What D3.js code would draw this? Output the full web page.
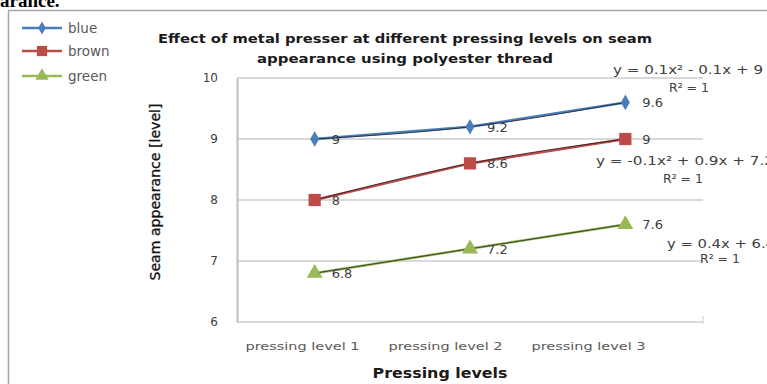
<!DOCTYPE html>
<html><head><meta charset="utf-8">
<script src="https://cdn.jsdelivr.net/npm/d3@7"></script>
<style>body{margin:0;background:#fff}svg{display:block}</style>
</head><body><svg id="c" width="767" height="384"></svg>
<script>
const categories = ["pressing level 1", "pressing level 2", "pressing level 3"];
const seriesNames = ["blue", "brown", "green"];
const blueValues = [9, 9.2, 9.6];
const brownValues = [8, 8.6, 9];
const greenValues = [6.8, 7.2, 7.6];
const yTicks = [6, 7, 8, 9, 10];
const equations = ["y = 0.1x² - 0.1x + 9", "y = -0.1x² + 0.9x + 7.2", "y = 0.4x + 6.4"];
const rSquared = ["R² = 1", "R² = 1", "R² = 1"];

const svg = d3.select("#c");
const colors = ["#4a7ebb", "#be4b48", "#98b954"];
const series = [blueValues, brownValues, greenValues];

// outer frame & stray text from source document
svg.append("text").attr("x", 0).attr("y", 7).attr("font-family", "Liberation Serif").attr("font-weight", "bold").attr("font-size", 19).attr("fill", "#000").text("arance.");
svg.append("rect").attr("x", 8.5).attr("y", 10.5).attr("width", 800).attr("height", 400).attr("fill", "none").attr("stroke", "#a6a6a6").attr("stroke-width", 1.5);

const x = d3.scaleBand().domain(categories).range([237, 703]);
const y = d3.scaleLinear().domain([6, 10]).range([322, 78]);
const xl = d3.scalePoint().domain(categories).range([302, 588]);

// gridlines
svg.append("g").selectAll("line").data(yTicks).join("line")
  .attr("x1", 237).attr("x2", 703).attr("y1", d => y(d)).attr("y2", d => y(d))
  .attr("stroke", "#d9d9d9").attr("stroke-width", 2);

// y axis
const ya = svg.append("g").attr("transform", "translate(237,0)").call(d3.axisLeft(y).tickValues(yTicks).tickSize(0).tickPadding(19).tickFormat(d3.format("d")));
ya.select(".domain").attr("stroke", "#bfbfbf").attr("stroke-width", 2);
ya.selectAll("text").attr("font-family", "DejaVu Sans").attr("font-size", 12).attr("fill", "#404040");

// x axis
const xa = svg.append("g").attr("transform", "translate(0,322)").call(d3.axisBottom(xl).tickSize(0).tickPadding(20));
xa.select(".domain").remove();
xa.selectAll("text").attr("font-family", "DejaVu Sans").attr("font-size", 11).attr("fill", "#595959").attr("textLength", 114).attr("lengthAdjust", "spacingAndGlyphs");
svg.append("line").attr("x1", x.range()[1]).attr("x2", x.range()[1]).attr("y1", 316).attr("y2", 324).attr("stroke", "#d0d0d0");

// lines
const line = d3.line().x((d, i) => x(categories[i]) + x.bandwidth() / 2).y(d => y(d));
const trend = d3.line().x((d, i) => x(categories[i]) + x.bandwidth() / 2).y(d => y(d)).curve(d3.curveMonotoneX);
const symbols = [d3.symbolDiamond, d3.symbolSquare, d3.symbolTriangle];
const sizes = [70, 150, 110];
series.forEach((vals, s) => {
  svg.append("path").attr("d", line(vals)).attr("fill", "none").attr("stroke", colors[s]).attr("stroke-width", 2.5);
  svg.append("path").attr("d", trend(vals)).attr("fill", "none").attr("stroke", "#1a1a1a").attr("stroke-width", 1).attr("opacity", 0.75);
  svg.append("g").selectAll("path").data(vals).join("path")
    .attr("transform", (d, i) => `translate(${x(categories[i]) + x.bandwidth() / 2},${y(d)})`)
    .attr("d", d3.symbol().type(symbols[s]).size(sizes[s])).attr("fill", colors[s]);
  svg.append("g").selectAll("text").data(vals).join("text")
    .attr("x", (d, i) => x(categories[i]) + x.bandwidth() / 2 + 17)
    .attr("y", d => y(d) + 5)
    .attr("font-family", "DejaVu Sans").attr("font-size", 13).attr("fill", "#404040")
    .text(d => d3.format("")(d));
});

// equations (start x, baseline, width) and R² (center x, baseline)
const eqPos = [[613, 74, 150, 689, 92], [596, 165, 178, 683, 183], [667, 248, 108, 720, 263]];
equations.forEach((eq, i) => {
  svg.append("text").attr("x", eqPos[i][0]).attr("y", eqPos[i][1])
    .attr("font-family", "DejaVu Sans").attr("font-size", 12.5).attr("fill", "#404040")
    .attr("textLength", eqPos[i][2]).attr("lengthAdjust", "spacingAndGlyphs").text(eq);
  svg.append("text").attr("x", eqPos[i][3]).attr("y", eqPos[i][4]).attr("text-anchor", "middle")
    .attr("font-family", "DejaVu Sans").attr("font-size", 12.5).attr("fill", "#404040").text(rSquared[i]);
});

// title
svg.append("text").attr("x", 405).attr("y", 43).attr("text-anchor", "middle").attr("font-family", "DejaVu Sans").attr("font-weight", "bold").attr("font-size", 13).attr("fill", "#1a1a1a")
  .attr("textLength", 494).attr("lengthAdjust", "spacingAndGlyphs").text("Effect of metal presser at different pressing levels on seam");
svg.append("text").attr("x", 405).attr("y", 63).attr("text-anchor", "middle").attr("font-family", "DejaVu Sans").attr("font-weight", "bold").attr("font-size", 13).attr("fill", "#1a1a1a")
  .attr("textLength", 296).attr("lengthAdjust", "spacingAndGlyphs").text("appearance using polyester thread");

// axis titles
svg.append("text").attr("x", 440).attr("y", 378).attr("text-anchor", "middle").attr("font-family", "DejaVu Sans").attr("font-weight", "bold").attr("font-size", 14).attr("fill", "#1a1a1a")
  .attr("textLength", 135).attr("lengthAdjust", "spacingAndGlyphs").text("Pressing levels");
svg.append("text").attr("transform", "translate(160,192) rotate(-90)").attr("text-anchor", "middle").attr("font-family", "DejaVu Sans").attr("font-size", 13.5).attr("fill", "#111").attr("stroke", "#111").attr("stroke-width", 0.3)
  .attr("textLength", 177).attr("lengthAdjust", "spacingAndGlyphs").text("Seam appearance [level]");

// legend
const legY = [28, 51, 76];
seriesNames.forEach((n, i) => {
  const g = svg.append("g").attr("transform", `translate(22,${legY[i]})`);
  g.append("line").attr("x1", 0).attr("x2", 40).attr("stroke", colors[i]).attr("stroke-width", 2.5);
  g.append("path").attr("transform", "translate(20,0)").attr("d", d3.symbol().type(symbols[i]).size(sizes[i] * 0.7)).attr("fill", colors[i]);
  g.append("text").attr("x", 46).attr("y", 5).attr("font-family", "DejaVu Sans").attr("font-size", 13.5).attr("fill", "#595959").text(n);
});
</script></body></html>
